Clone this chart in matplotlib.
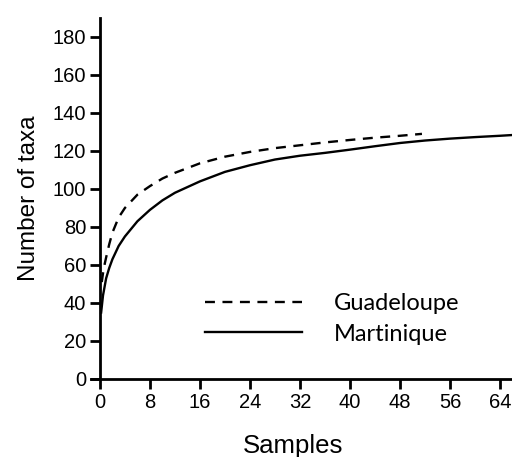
import matplotlib.pyplot as plt
import numpy as np

# values
mart_x = [0.2, 0.5, 1, 1.5, 2, 3, 4, 6, 8, 10, 12, 16, 20, 24, 28, 32, 36, 40, 44, 48, 52, 56, 60, 64, 66]
mart_y = [35, 44, 53, 58.5, 63, 70, 75, 83, 89, 94, 98, 104, 109, 112.5, 115.5, 117.5, 119, 120.7, 122.5, 124.2, 125.5, 126.5, 127.3, 128, 128.4]
guad_x = [0.3, 0.6, 1, 1.5, 2, 3, 4, 6, 8, 10, 12, 16, 20, 24, 28, 32, 36, 40, 44, 48, 51.5]
guad_y = [51, 58, 64, 71, 77, 85, 90, 97, 101.5, 105.5, 108.5, 113.5, 117, 119.5, 121.5, 123, 124.5, 125.8, 127, 128, 129]

x_ticks = [0, 8, 16, 24, 32, 40, 48, 56, 64]
y_ticks = [0, 20, 40, 60, 80, 100, 120, 140, 160, 180]

fig = plt.figure(figsize=(5.12, 4.57), dpi=100)
ax = fig.add_axes([0.178, 0.1707, 0.822, 0.79])

ax.plot(guad_x, guad_y, color='black', lw=1.7, dashes=(4.2, 3.2), label='Guadeloupe')
ax.plot(mart_x, mart_y, color='black', lw=1.7, label='Martinique')

ax.set_xlim(-1.4, 65.9)
ax.set_ylim(0, 190)
ax.spines['top'].set_visible(False)
ax.spines['right'].set_visible(False)
ax.spines['left'].set_position(('data', 0))
ax.spines['left'].set_linewidth(2)
ax.spines['bottom'].set_linewidth(2)

ax.set_xticks(x_ticks)
ax.set_yticks(y_ticks)
ax.tick_params(width=2, length=7, labelsize=14.5, pad=3)
for lab in ax.get_xticklabels() + ax.get_yticklabels():
    lab.set_family('Liberation Sans')

ax.set_ylabel('Number of taxa', fontsize=17.5, family='Liberation Sans', labelpad=9)
ax.set_xlabel('Samples', fontsize=18.5, family='Liberation Sans')
ax.xaxis.set_label_coords(0.48, -0.153)

leg = ax.legend(loc='lower left', bbox_to_anchor=(0.221, 0.036), frameon=False,
                handlelength=4.1, handletextpad=1.35, labelspacing=0.4,
                prop={'family': 'Lato', 'size': 17})

plt.savefig('out.png', dpi=100)
